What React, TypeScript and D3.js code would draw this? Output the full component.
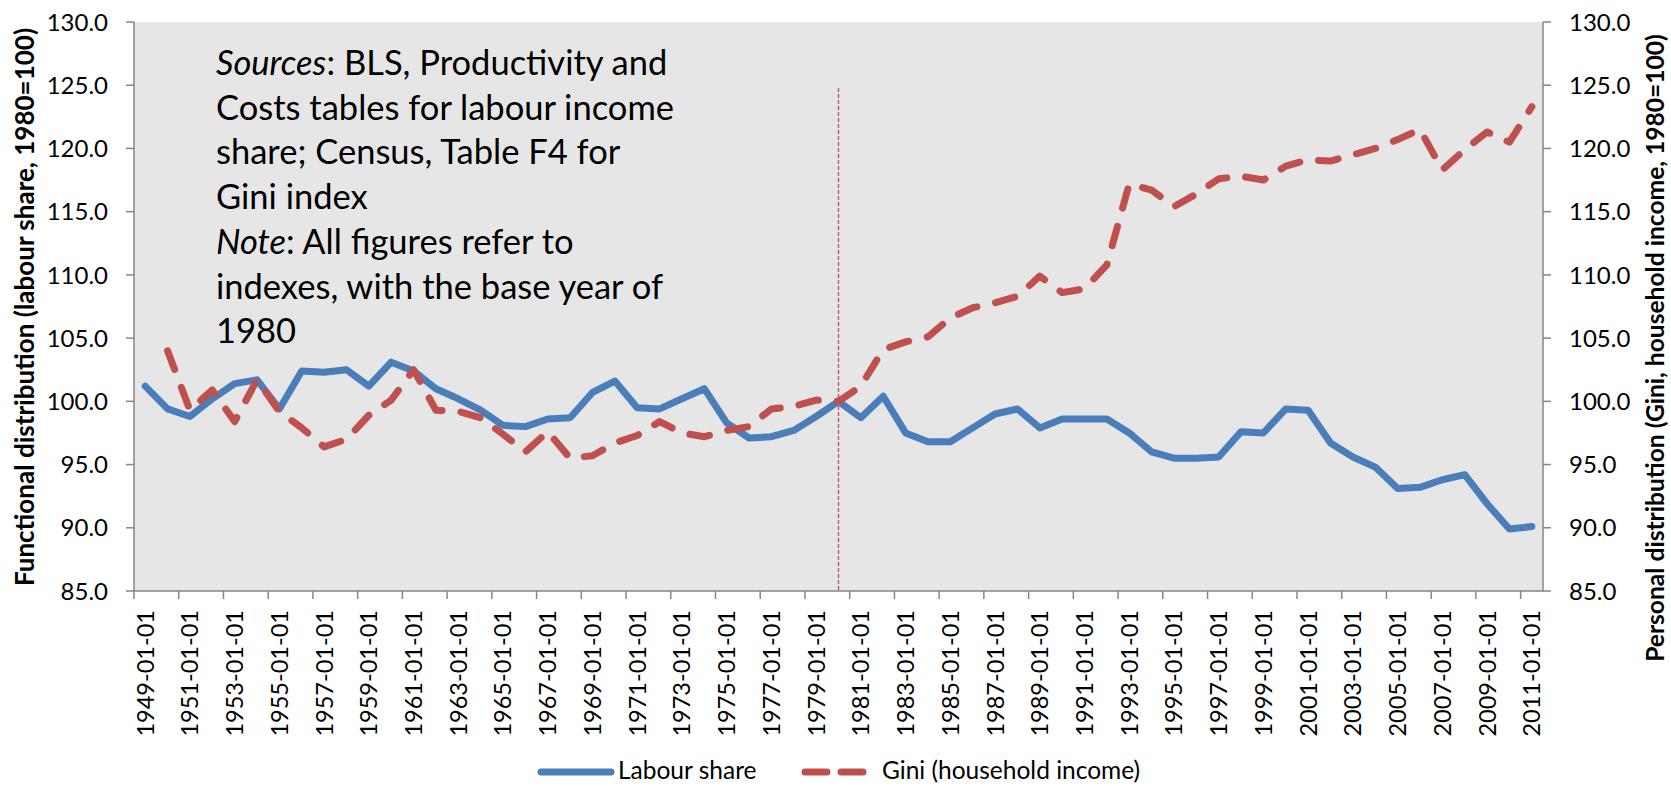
import React from 'react';
import * as d3 from 'd3';

const years: number[] = [
  1949, 1950, 1951, 1952, 1953, 1954, 1955, 1956, 1957, 1958,
  1959, 1960, 1961, 1962, 1963, 1964, 1965, 1966, 1967, 1968,
  1969, 1970, 1971, 1972, 1973, 1974, 1975, 1976, 1977, 1978,
  1979, 1980, 1981, 1982, 1983, 1984, 1985, 1986, 1987, 1988,
  1989, 1990, 1991, 1992, 1993, 1994, 1995, 1996, 1997, 1998,
  1999, 2000, 2001, 2002, 2003, 2004, 2005, 2006, 2007, 2008,
  2009, 2010, 2011,
];

const labourShare: number[] = [
  101.2, 99.4, 98.8, 100.2, 101.4, 101.7, 99.4, 102.4, 102.3, 102.5,
  101.2, 103.1, 102.4, 101.0, 100.2, 99.3, 98.1, 98.0, 98.6, 98.7,
  100.7, 101.6, 99.5, 99.4, 100.2, 101.0, 98.3, 97.1, 97.2, 97.7,
  98.8, 100.0, 98.7, 100.4, 97.5, 96.8, 96.8, 97.9, 99.0, 99.4,
  97.9, 98.6, 98.6, 98.6, 97.5, 96.0, 95.5, 95.5, 95.6, 97.6,
  97.5, 99.4, 99.3, 96.7, 95.6, 94.8, 93.1, 93.2, 93.8, 94.2,
  91.9, 89.9, 90.1,
];

const gini: (number | null)[] = [
  null, 104.0, 99.3, 100.9, 98.4, 101.7, 99.2, 97.9, 96.4, 97.0,
  98.9, 100.1, 102.5, 99.3, 99.2, 98.7, 97.4, 96.0, 97.6, 95.5,
  95.7, 96.7, 97.3, 98.4, 97.5, 97.2, 97.7, 98.0, 99.4, 99.6,
  100.1, 100.0, 101.2, 104.1, 104.7, 105.1, 106.6, 107.4, 107.8, 108.3,
  109.9, 108.6, 108.9, 110.8, 117.2, 116.7, 115.4, 116.4, 117.6, 117.8,
  117.5, 118.6, 119.1, 119.0, 119.5, 120.0, 120.7, 121.5, 118.3, 119.9,
  121.3, 120.5, 123.3,
];

const yTicks: number[] = [85, 90, 95, 100, 105, 110, 115, 120, 125, 130];
const seriesNames: string[] = ['Labour share', 'Gini (household income)'];
const leftTitle = 'Functional distribution (labour share, 1980=100)';
const rightTitle = 'Personal distribution (Gini, household income, 1980=100)';
const baseYear = 1980;

const FONT = "Lato, Carlito, 'Open Sans', sans-serif";
const BLUE = '#4A7EBB';
const RED = '#C0504D';
const AXIS = '#868686';

export default function App() {
  const W = 1671, H = 786;
  const left = 134, right = 1543, top = 22, bottom = 591;

  const x = d3.scaleBand<number>().domain(years).range([left, right]).padding(0);
  const bw = x.bandwidth();
  const cx = (yr: number) => (x(yr) as number) + bw / 2;
  const y = d3.scaleLinear().domain([85, 130]).range([bottom, top]);

  const lineGen = d3
    .line<[number, number | null]>()
    .defined((d) => d[1] != null)
    .x((d) => cx(d[0]))
    .y((d) => y(d[1] as number));

  const blueData: [number, number | null][] = years.map((yr, i) => [yr, labourShare[i]]);
  const redData: [number, number | null][] = years.map((yr, i) => [yr, gini[i]]);

  const xTickIdx = years.map((_, i) => i).filter((i) => i % 2 === 0);

  const fmt = d3.format('.1f');

  const annotLines: { parts: { t: string; italic?: boolean }[] }[] = [
    { parts: [{ t: 'Sources', italic: true }, { t: ': BLS, Productivity and' }] },
    { parts: [{ t: 'Costs tables for labour income' }] },
    { parts: [{ t: 'share; Census, Table F4 for' }] },
    { parts: [{ t: 'Gini index' }] },
    { parts: [{ t: 'Note', italic: true }, { t: ': All figures refer to' }] },
    { parts: [{ t: 'indexes, with the base year of' }] },
    { parts: [{ t: '1980' }] },
  ];

  return (
    <svg
      width={W}
      height={H}
      style={{ position: 'absolute', left: 0, top: 0, display: 'block', background: '#fff' }}
      fontFamily={FONT}
    >
      <rect x={left} y={top} width={right - left} height={bottom - top} fill="#E6E6E6" />

      {/* annotation */}
      <g fontSize={34.5} fill="#000">
        {annotLines.map((ln, i) => (
          <text key={i} x={216} y={75 + i * 44.7}>
            {ln.parts.map((p, j) => (
              <tspan key={j} fontStyle={p.italic ? 'italic' : 'normal'}>
                {p.t}
              </tspan>
            ))}
          </text>
        ))}
      </g>

      {/* base year vertical line */}
      <line
        x1={cx(baseYear)}
        x2={cx(baseYear)}
        y1={88}
        y2={bottom}
        stroke={RED}
        strokeWidth={1.3}
        strokeDasharray="4 2"
      />

      {/* series */}
      <path
        d={lineGen(blueData) || ''}
        fill="none"
        stroke={BLUE}
        strokeWidth={7}
        strokeLinejoin="round"
        strokeLinecap="round"
      />
      <path
        d={lineGen(redData) || ''}
        fill="none"
        stroke={RED}
        strokeWidth={7}
        strokeLinejoin="round"
        strokeLinecap="round"
        strokeDasharray="20 19"
      />

      {/* axes */}
      <line x1={left} x2={left} y1={top} y2={bottom} stroke={AXIS} strokeWidth={1.5} />
      <line x1={right} x2={right} y1={top} y2={bottom} stroke={AXIS} strokeWidth={1.5} />
      <line x1={left} x2={right} y1={bottom} y2={bottom} stroke={AXIS} strokeWidth={1.5} />

      {yTicks.map((t) => (
        <g key={t}>
          <line x1={left - 8} x2={left} y1={y(t)} y2={y(t)} stroke={AXIS} strokeWidth={1.5} />
          <line x1={right} x2={right + 8} y1={y(t)} y2={y(t)} stroke={AXIS} strokeWidth={1.5} />
          <text x={108} y={y(t)} dy="0.36em" textAnchor="end" fontSize={24} fill="#000">
            {fmt(t)}
          </text>
          <text x={1569} y={y(t)} dy="0.36em" textAnchor="start" fontSize={24} fill="#000">
            {fmt(t)}
          </text>
        </g>
      ))}

      {xTickIdx.map((i) => (
        <g key={years[i]}>
          <line
            x1={x(years[i]) as number}
            x2={x(years[i]) as number}
            y1={bottom}
            y2={bottom + 8}
            stroke={AXIS}
            strokeWidth={1.5}
          />
          <text
            transform={`translate(${cx(years[i])},${610}) rotate(-90)`}
            textAnchor="end"
            dy="0.36em"
            fontSize={23.5}
            fill="#000"
          >
            {`${years[i]}-01-01`}
          </text>
        </g>
      ))}

      {/* axis titles */}
      <text
        transform={`translate(25,307) rotate(-90)`}
        textAnchor="middle"
        dy="0.35em"
        fontSize={26}
        fontWeight="bold"
        fill="#000"
      >
        {leftTitle}
      </text>
      <text
        transform={`translate(1655,348) rotate(-90)`}
        textAnchor="middle"
        dy="0.35em"
        fontSize={24.6}
        fontWeight="bold"
        fill="#000"
      >
        {rightTitle}
      </text>

      {/* legend */}
      <g fontSize={24.5} fill="#000">
        <line x1={541} x2={611} y1={772} y2={772} stroke={BLUE} strokeWidth={7} strokeLinecap="round" />
        <text x={618} y={779}>{seriesNames[0]}</text>
        <line
          x1={805}
          x2={868}
          y1={772}
          y2={772}
          stroke={RED}
          strokeWidth={7}
          strokeLinecap="round"
          strokeDasharray="22 14"
        />
        <text x={882} y={779}>{seriesNames[1]}</text>
      </g>
    </svg>
  );
}
